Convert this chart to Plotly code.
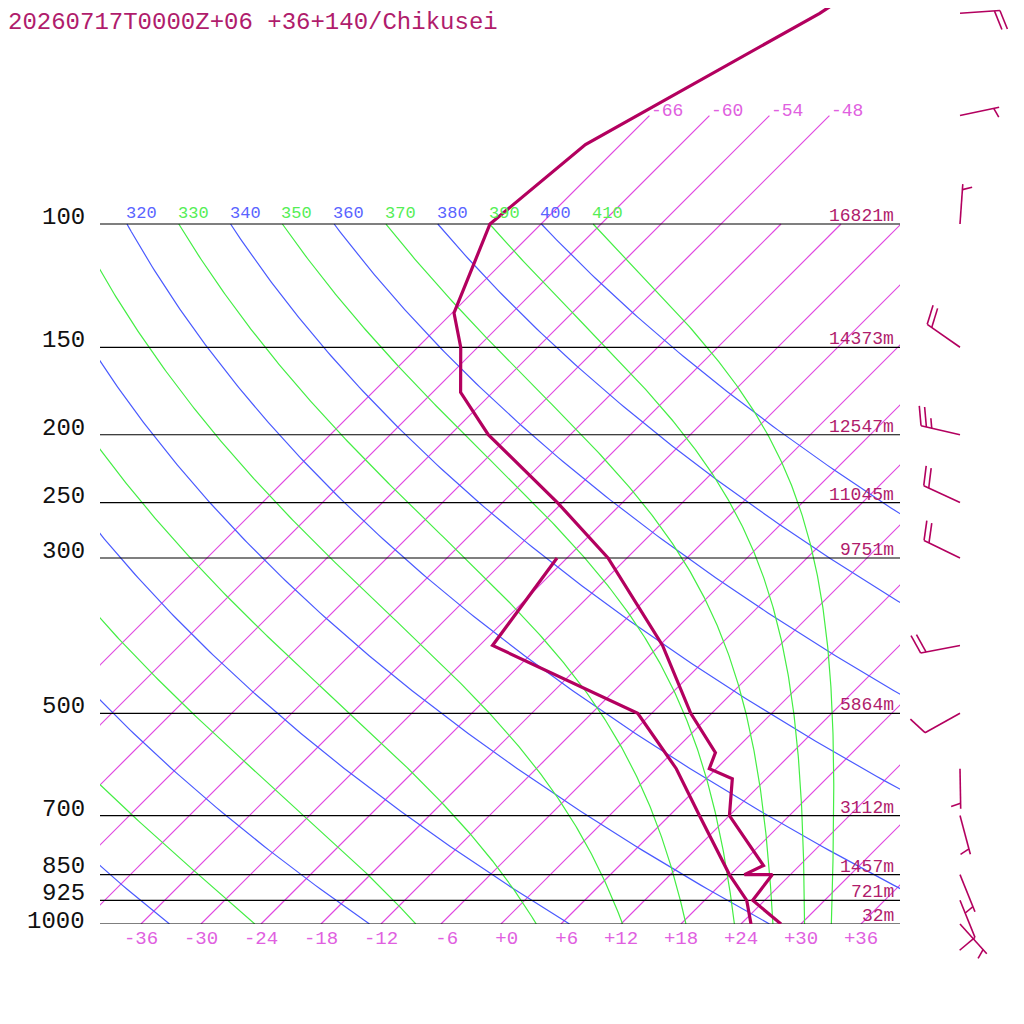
import numpy as np
import plotly.graph_objects as go

# Skew-T geometry (10 px per degC, 304 px per ln-unit of pressure)
# the page puts the figure 8 px in from the top-left corner, so everything is shifted by OFF
OFF = 8
KAPPA = 0.2857
SKEW = 30.4
P_TOP = 1000 * np.exp(-(924 - OFF) / 304)
P_BOT = 1000 * np.exp((1024 + OFF - 924) / 304)

# Sounding
temp_p = [40, 50, 77, 100, 134, 150, 174, 200, 250, 300, 400, 500, 569, 600, 620, 700, 825, 850, 850, 925, 1000]
temp_c = [-55.6, -59.2, -69.5, -71.1, -65.8, -61.7, -57.2, -50.2, -36.5, -25.9, -11.7, -2.1, 4.3, 5.3, 8.6, 12.0, 20.4, 19.4, 22.2, 22.8, 28.0]
dew_p = [300, 400, 500, 600, 700, 850, 925, 1000]
dew_c = [-31.0, -28.7, -7.4, 2.0, 9.0, 17.9, 22.2, 25.0]

# Standard levels and geopotential heights
levels = [100, 150, 200, 250, 300, 500, 700, 850, 925, 1000]
heights = ["16821m", "14373m", "12547m", "11045m", "9751m", "5864m", "3112m", "1457m", "721m", "32m"]

# Winds: pressure, direction (deg), speed (kt)
wind_p = [50, 70, 100, 150, 200, 250, 300, 400, 500, 600, 700, 850, 925, 1000]
wind_dir = [86, 78, 4, 305, 283, 295, 296, 259, 241, 179, 165, 158, 158, 138]
wind_kt = [20, 5, 5, 20, 25, 20, 20, 20, 10, 5, 5, 5, 10, 5]

# Background lines
isotherms = list(range(-66, 37, 6))
iso_ticks = list(range(-36, 37, 6))
iso_labels = ["-36", "-30", "-24", "-18", "-12", "-6", "+0", "+6", "+12", "+18", "+24", "+30", "+36"]
dry_theta = list(range(240, 401, 20))
moist_theta = list(range(250, 411, 20))

title = "20260717T0000Z+06 +36+140/Chikusei"

RED = "#b3005f"
TXT = "#b01c6c"
ISO = "#e048e0"
ISO_TXT = "#e060e0"
BLUE = "#4a5aff"
BLUE_TXT = "#5a64ff"
GREEN = "#44ee44"
GREEN_TXT = "#55ee55"
MONO = "Liberation Mono"
W = 1024.0


def skx(t, p):
    return np.asarray(t) + SKEW * np.log(1000.0 / np.asarray(p, dtype=float))


def moist_dtdp(T, p):
    es = 6.112 * np.exp(17.67 * (T - 273.15) / (T - 29.65))
    rs = 0.622 * es / (p - es)
    return (287.04 * T + 2.501e6 * rs) / (1005.7 + 2.501e6 ** 2 * rs * 0.622 / (287.04 * T * T)) / p


def moist_line(theta):
    ps = np.geomspace(100, 1000, 301)
    T = theta * 0.1 ** KAPPA
    out = [T]
    for p0, p1 in zip(ps[:-1], ps[1:]):
        h = p1 - p0
        k1 = moist_dtdp(T, p0)
        k2 = moist_dtdp(T + h * k1 / 2, p0 + h / 2)
        k3 = moist_dtdp(T + h * k2 / 2, p0 + h / 2)
        k4 = moist_dtdp(T + h * k3, p1)
        T = T + h * (k1 + 2 * k2 + 2 * k3 + k4) / 6
        out.append(T)
    return ps, np.array(out) - 273.15


fig = go.Figure()


def add_line(x, y, color, width, xa="x", ya="y"):
    fig.add_trace(go.Scatter(x=x, y=y, mode="lines", line=dict(color=color, width=width),
                             hoverinfo="skip", showlegend=False, xaxis=xa, yaxis=ya))


ann = []

# isotherms
for t in isotherms:
    p_end = 70 if t <= -48 else 100
    add_line(skx([t, t], [1000, p_end]), [1000, p_end], ISO, 1.2)
    if p_end == 70:
        ann.append(dict(x=float(skx(t, 70)), y=np.log10(70), xref="x", yref="y", text=str(t),
                        xanchor="left", yanchor="bottom", yshift=-7, showarrow=False,
                        font=dict(family=MONO, size=18, color=ISO_TXT)))

# dry adiabats
pc = np.geomspace(1000, 100, 181)
for th in dry_theta:
    xs = skx(th * (pc / 1000) ** KAPPA - 273.15, pc)
    add_line(xs, pc, BLUE, 1.2)
    if -40.1 <= xs[-1] <= 39.9:
        ann.append(dict(x=float(xs[-1]), y=2, xref="x", yref="y", text=str(th),
                        xanchor="left", yanchor="bottom", xshift=-3, yshift=-1, showarrow=False,
                        font=dict(family=MONO, size=17, color=BLUE_TXT)))

# moist adiabats
for th in moist_theta:
    ps, ts = moist_line(th)
    xs = skx(ts, ps)
    add_line(xs, ps, GREEN, 1.2)
    if -40.1 <= xs[0] <= 39.9:
        ann.append(dict(x=float(xs[0]), y=2, xref="x", yref="y", text=str(th),
                        xanchor="left", yanchor="bottom", xshift=-3, yshift=-1, showarrow=False,
                        font=dict(family=MONO, size=17, color=GREEN_TXT)))

# isobars + labels (the three lowest labels are nudged apart a little so they don't collide)
nudge = {850: 2, 1000: -3.5}
for p, h in zip(levels, heights):
    add_line([-40.1, 39.9], [p, p], "black", 1.2)
    ann.append(dict(x=(86 - OFF) / W, y=np.log10(p), xref="paper", yref="y", text=str(p),
                    xanchor="right", yanchor="bottom", yshift=-8 + nudge.get(p, 0),
                    borderpad=0, showarrow=False,
                    font=dict(family=MONO, size=24, color="#111111")))
    ann.append(dict(x=39.5, y=np.log10(p), xref="x", yref="y", text=h,
                    xanchor="right", yanchor="bottom", yshift=-4, showarrow=False,
                    font=dict(family=MONO, size=18, color=TXT)))

# sounding
add_line(skx(dew_c, dew_p), dew_p, RED, 3.2)
add_line(skx(temp_c, temp_p), temp_p, RED, 3.2)

# wind barbs (pixel x on x2, pressure on y2)
bx, by = [], []
L, SP, A = 40.0, 5.5, np.radians(72)


def pt(x, dy, p):
    return x, p * np.exp(dy / 304.0)


for p, d, s in zip(wind_p, wind_dir, wind_kt):
    sx, sy = np.sin(np.radians(d)), -np.cos(np.radians(d))
    rx = sx * np.cos(A) - sy * np.sin(A)
    ry = sx * np.sin(A) + sy * np.cos(A)
    x0 = 960.0
    for q in (pt(x0, 0, p), pt(x0 + L * sx, L * sy, p)):
        bx.append(q[0]); by.append(q[1])
    bx.append(None); by.append(None)
    n10 = s // 10
    n5 = (s % 10) // 5
    feathers = [20.0] * n10 + [10.0] * n5
    start = 1 if n10 == 0 else 0
    for i, ln in enumerate(feathers):
        dist = L - (i + start) * SP
        fx, fy = x0 + dist * sx, dist * sy
        for q in (pt(fx, fy, p), pt(fx + ln * rx, fy + ln * ry, p)):
            bx.append(q[0]); by.append(q[1])
        bx.append(None); by.append(None)

add_line(bx, by, RED, 1.6, "x2", "y2")

ann.append(dict(x=0, y=1, xref="paper", yref="paper", text=title,
                xanchor="left", yanchor="top", xshift=-1, borderpad=0, showarrow=False,
                font=dict(family=MONO, size=24, color=TXT)))

# tick texts padded to three characters, as in the original fixed-width layout
tick_text = [s.rjust(3).replace(" ", "\u00a0") for s in iso_labels]

fig.update_layout(
    width=1024, height=1024, margin=dict(l=0, r=0, t=0, b=0),
    paper_bgcolor="white", plot_bgcolor="white", showlegend=False,
    annotations=ann,
    xaxis=dict(domain=[(100 - OFF) / W, (900 - OFF) / W], range=[-40.1, 39.9], showgrid=False,
               zeroline=False, showline=False, ticks="", tickvals=iso_ticks, ticktext=tick_text,
               tickfont=dict(family=MONO, size=19, color=ISO_TXT), anchor="y"),
    yaxis=dict(domain=[1 - (924 - OFF) / W, 1], type="log", range=[3, np.log10(P_TOP)],
               showgrid=False, zeroline=False, showticklabels=False, anchor="x"),
    xaxis2=dict(domain=[(900 - OFF) / W, 1], range=[900, 900 + W - (900 - OFF)], visible=False,
                anchor="y2"),
    yaxis2=dict(domain=[0, 1], type="log", range=[np.log10(P_BOT), np.log10(P_TOP)],
                visible=False, anchor="x2"),
)

fig.write_html("out.html")
